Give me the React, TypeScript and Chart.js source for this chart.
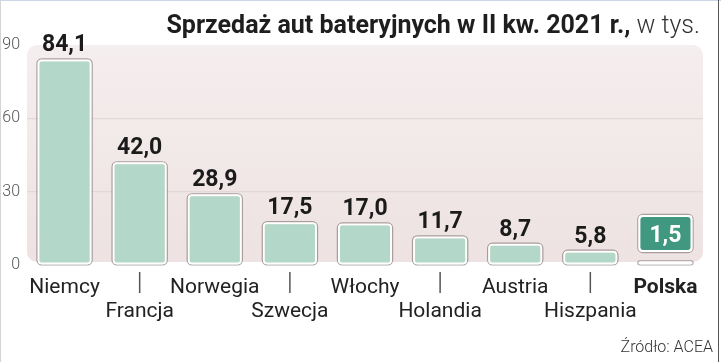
import React, { useEffect, useRef } from 'react';
import { Chart, registerables } from 'chart.js';

Chart.register(...registerables);

const categories = ['Niemcy', 'Francja', 'Norwegia', 'Szwecja', 'Włochy', 'Holandia', 'Austria', 'Hiszpania', 'Polska'];
const values = [84.1, 42.0, 28.9, 17.5, 17.0, 11.7, 8.7, 5.8, 1.5];
const valueLabels = ['84,1', '42,0', '28,9', '17,5', '17,0', '11,7', '8,7', '5,8', '1,5'];
const yTickValues = [0, 30, 60, 90];
const highlighted = 'Polska';
const titleBold = 'Sprzedaż aut bateryjnych w II kw. 2021 r.,';
const titleLight = ' w tys.';
const sourceText = 'Źródło: ACEA';

const BAR_COLOR = '#b3d8ca';
const HIGHLIGHT_COLOR = '#3f987f';

const decor = {
  id: 'decor',
  beforeDraw(chart: any) {
    const { ctx, chartArea: a } = chart;
    ctx.save();
    ctx.fillStyle = '#ffffff';
    ctx.fillRect(0, 0, chart.width, chart.height);
    const g = ctx.createLinearGradient(0, a.top, 0, a.bottom);
    g.addColorStop(0, '#f5eeee');
    g.addColorStop(1, '#eee2e2');
    ctx.fillStyle = g;
    ctx.beginPath();
    ctx.roundRect(a.left, a.top, a.right - a.left, a.bottom - 3 - a.top, 10);
    ctx.fill();
    // frame
    ctx.fillStyle = '#c9d6e8';
    ctx.fillRect(0, 0, chart.width, 1);
    ctx.fillStyle = '#d4d4d4';
    ctx.fillRect(0, 0, 1, chart.height);
    ctx.fillStyle = '#555555';
    ctx.fillRect(718, 0, 1, chart.height);
    ctx.restore();
  },
  beforeDatasetsDraw(chart: any) {
    const { ctx } = chart;
    const meta = chart.getDatasetMeta(0);
    ctx.save();
    ctx.strokeStyle = 'rgba(110,100,100,0.55)';
    ctx.lineWidth = 1.2;
    meta.data.forEach((el: any) => {
      const { x, y, base, width } = el.getProps(['x', 'y', 'base', 'width'], true);
      ctx.beginPath();
      ctx.roundRect(x - width / 2 - 0.6, y - 0.6, width + 1.2, base - y + 1.2, 5);
      ctx.stroke();
    });
    ctx.restore();
  },
  afterDatasetsDraw(chart: any) {
    const { ctx } = chart;
    const meta = chart.getDatasetMeta(0);
    const xs = chart.scales.x;
    ctx.save();
    // value labels
    meta.data.forEach((el: any, i: number) => {
      const { x, y, width } = el.getProps(['x', 'y', 'width'], true);
      ctx.font = '700 23px Roboto';
      ctx.textAlign = 'center';
      ctx.textBaseline = 'alphabetic';
      if (categories[i] === highlighted) {
        const top = 215, h = 37;
        ctx.save();
        ctx.strokeStyle = 'rgba(110,100,100,0.55)';
        ctx.lineWidth = 1.2;
        ctx.beginPath();
        ctx.roundRect(x - width / 2 - 0.6, top - 0.6, width + 1.2, h + 1.2, 5);
        ctx.stroke();
        ctx.fillStyle = '#ffffff';
        ctx.beginPath();
        ctx.roundRect(x - width / 2, top, width, h, 4);
        ctx.fill();
        ctx.fillStyle = HIGHLIGHT_COLOR;
        ctx.beginPath();
        ctx.roundRect(x - width / 2 + 2, top + 2, width - 4, h - 4, 3);
        ctx.fill();
        ctx.restore();
        ctx.fillStyle = '#ffffff';
        ctx.fillText(valueLabels[i], x, top + 27);
      } else {
        ctx.fillStyle = '#1b1b1b';
        ctx.fillText(valueLabels[i], x, y - 8);
      }
    });
    // category labels (staggered)
    categories.forEach((c, i) => {
      const x = xs.getPixelForValue(i);
      ctx.fillStyle = '#222222';
      ctx.font = (c === highlighted ? '700 ' : '400 ') + '21px Roboto';
      ctx.textAlign = 'center';
      ctx.textBaseline = 'alphabetic';
      if (i % 2 === 0) {
        ctx.fillText(c, x, 293);
      } else {
        ctx.strokeStyle = '#555555';
        ctx.lineWidth = 1.5;
        ctx.beginPath();
        ctx.moveTo(x, 272);
        ctx.lineTo(x, 293);
        ctx.stroke();
        ctx.fillText(c, x, 317);
      }
    });
    // title
    ctx.textBaseline = 'alphabetic';
    ctx.textAlign = 'left';
    ctx.font = '300 25px Roboto';
    const wl = ctx.measureText(titleLight).width;
    ctx.font = '700 25px Roboto';
    const wb = ctx.measureText(titleBold).width;
    const right = 700;
    ctx.fillStyle = '#1e1e1e';
    ctx.fillText(titleBold, right - wl - wb, 33);
    ctx.font = '300 25px Roboto';
    ctx.fillStyle = '#333333';
    ctx.fillText(titleLight, right - wl, 33);
    // source
    ctx.font = '300 16px Roboto';
    ctx.textAlign = 'right';
    ctx.fillStyle = '#333333';
    ctx.fillText(sourceText, 713, 352);
    ctx.restore();
  },
};

export default function App() {
  const ref = useRef<HTMLCanvasElement>(null);
  useEffect(() => {
    document.body.style.margin = '0';
    const chart = new Chart(ref.current as HTMLCanvasElement, {
      type: 'bar',
      data: {
        labels: categories,
        datasets: [
          {
            data: values,
            backgroundColor: categories.map((c) => (c === highlighted ? '#f4f4f4' : BAR_COLOR)),
            borderColor: '#ffffff',
            borderWidth: 2,
            borderRadius: 4,
            borderSkipped: false,
            barPercentage: 0.72,
            categoryPercentage: 1,
          },
        ],
      },
      options: {
        animation: false,
        responsive: false,
        maintainAspectRatio: false,
        layout: { padding: { top: 45, right: 18, left: 0, bottom: 0 } },
        plugins: { legend: { display: false }, tooltip: { enabled: false }, title: { display: false } },
        scales: {
          x: {
            type: 'category',
            offset: true,
            grid: { display: false },
            border: { display: false },
            ticks: { display: false },
            afterFit: (s: any) => {
              s.height = 97;
            },
          },
          y: {
            min: 0,
            max: 90,
            afterBuildTicks: (s: any) => {
              s.ticks = yTickValues.map((v) => ({ value: v }));
            },
            ticks: {
              color: '#555555',
              font: { family: 'Roboto', size: 16, weight: 300 },
              padding: 7,
            },
            grid: {
              drawTicks: false,
              color: (c: any) => (c.tick && (c.tick.value === 30 || c.tick.value === 60) ? '#e4d8d8' : 'rgba(0,0,0,0)'),
              lineWidth: 1.2,
            },
            border: { display: false },
            afterFit: (s: any) => {
              s.width = 27;
            },
          },
        },
      },
      plugins: [decor],
    });
    return () => chart.destroy();
  }, []);
  return (
    <div style={{ width: 721, height: 362 }}>
      <canvas ref={ref} width={721} height={362} style={{ display: 'block' }} />
    </div>
  );
}
